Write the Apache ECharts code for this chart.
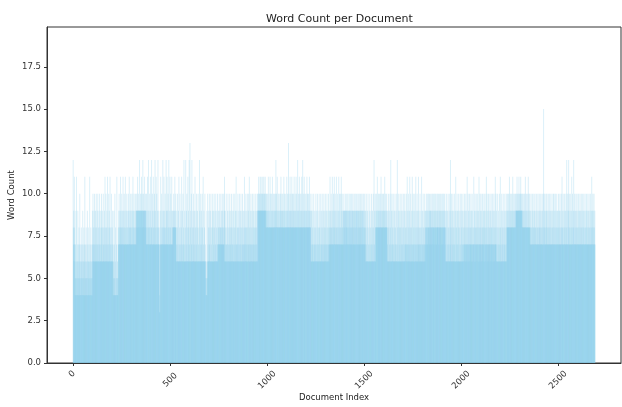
<!DOCTYPE html>
<html>
<head>
<meta charset="utf-8">
<script src="https://cdn.jsdelivr.net/npm/echarts@6/dist/echarts.min.js"></script>
<style>html,body{margin:0;padding:0;background:#fff;}#c{width:622px;height:407px;}</style>
</head>
<body>
<div id="c"></div>
<script>
// Word counts per document, docs 0-499
const docs0 = [
12,8,7,9,6,7,11,8,7,4,6,5,7,4,9,5,4,11,6,4,
5,7,4,6,9,4,5,7,4,6,8,5,4,7,10,4,6,5,4,7,
4,6,8,5,4,7,6,4,5,9,4,7,6,4,5,8,4,6,7,4,
11,5,4,6,7,4,5,8,4,6,5,4,7,9,4,6,5,4,8,6,
4,7,5,4,6,11,4,5,7,4,6,8,4,5,6,4,7,5,4,9,
6,7,10,6,8,6,7,9,6,6,10,7,6,8,6,9,6,7,6,10,
6,8,6,7,9,6,6,10,7,6,8,6,6,9,7,6,10,6,8,6,
7,6,9,6,6,8,10,6,7,6,9,6,8,6,6,10,7,6,8,6,
6,9,6,7,11,6,8,6,6,10,7,6,8,6,9,6,6,11,7,6,
8,6,6,10,7,6,9,6,8,6,11,6,7,6,8,6,6,10,6,7,
6,8,6,9,6,7,4,6,5,4,9,4,7,5,4,10,4,6,4,8,
4,5,4,7,4,11,5,4,6,4,5,4,7,8,7,9,7,10,8,7,
7,9,7,8,11,7,7,9,8,7,10,7,7,8,9,7,7,11,8,7,
9,7,7,10,7,8,7,9,7,11,7,8,7,7,9,7,10,7,8,7,
7,9,7,8,10,7,7,9,7,11,8,7,7,9,7,8,10,7,7,9,
8,7,7,10,7,9,7,8,11,7,7,9,8,7,10,7,7,8,9,7,
7,10,7,8,7,9,9,10,9,8,9,9,11,9,8,9,10,9,9,8,
9,9,12,9,9,8,9,10,9,9,8,9,11,9,9,10,8,9,9,12,
9,8,9,10,9,9,8,9,11,9,9,8,9,10,9,8,9,7,10,7,
7,8,7,11,7,9,7,8,12,7,7,9,8,7,10,7,8,7,11,7,
9,7,7,8,12,7,8,7,10,7,9,7,7,11,8,7,7,9,7,10,
7,8,12,7,7,9,7,8,11,7,7,10,7,8,7,9,7,12,7,8,
7,9,7,8,7,3,4,3,7,9,7,11,7,8,7,7,10,7,9,7,
8,7,12,7,7,9,8,7,11,7,7,8,9,7,10,7,8,7,7,12,
7,9,7,8,11,7,7,9,7,10,7,8,7,12,7,9,7,7,8,11
];
// docs 500-999
const docs1 = [
7,8,7,10,7,9,7,7,11,7,8,7,9,7,8,8,9,8,10,8,
8,9,8,8,11,8,9,8,8,10,8,6,7,6,9,6,8,6,10,6,
7,6,6,9,6,11,6,7,6,8,6,10,6,6,7,9,6,8,6,11,
6,7,6,9,6,6,10,7,6,8,6,12,6,7,6,9,6,6,8,6,
12,6,7,6,9,6,10,6,8,6,6,11,7,6,9,6,8,6,12,6,
7,6,13,6,8,6,9,6,6,10,7,6,12,6,8,6,6,9,7,6,
10,6,8,6,6,9,6,7,11,6,6,8,6,9,6,6,10,7,6,8,
6,9,6,6,10,6,7,6,8,6,6,12,6,9,6,7,6,10,6,8,
6,6,9,7,6,10,6,8,6,6,11,6,7,6,9,6,6,8,6,10,
6,7,6,5,4,6,4,5,4,9,4,6,5,10,6,7,6,8,6,9,
6,6,10,7,6,8,6,9,6,6,10,6,7,6,8,6,6,9,6,10,
6,8,6,6,9,7,6,10,6,8,6,6,9,6,7,10,6,6,8,6,
9,6,7,6,10,6,7,8,7,9,7,8,7,10,7,7,9,8,7,8,
7,10,7,8,7,9,7,7,8,10,7,9,7,8,7,7,10,7,8,9,
11,6,7,6,9,6,8,7,6,10,6,7,6,8,7,6,9,6,10,6,
7,6,8,6,9,7,6,10,6,8,6,7,9,6,6,8,10,6,7,6,
9,6,7,8,6,10,6,6,9,7,6,8,6,10,6,7,6,9,6,8,
11,6,7,6,9,7,6,8,6,10,6,7,8,6,9,6,6,10,7,6,
8,6,9,6,7,10,6,8,6,6,9,7,6,10,6,8,7,6,9,6,
7,6,8,11,6,7,9,6,8,6,10,7,6,8,6,9,7,6,10,6,
8,6,7,9,6,10,7,6,11,6,8,7,6,9,6,7,10,6,8,6,
7,9,6,6,10,7,6,8,6,9,7,6,10,6,8,6,7,9,6,8,
6,10,7,6,9,6,8,7,6,10,6,9,9,10,9,9,11,9,10,9,
9,10,9,9,11,9,9,10,9,11,9,9,10,9,9,10,9,11,9,9,
10,9,9,11,9,10,9,9,10,9,11,9,9,10,8,9,8,10,8,9
];
// docs 1000-1499
const docs2 = [
8,10,8,9,8,8,11,8,9,8,10,8,8,9,8,11,8,8,10,8,
9,8,8,10,8,9,8,11,8,8,9,8,10,8,8,9,8,10,8,9,
8,8,10,8,9,12,8,8,10,8,9,8,11,8,8,9,8,10,8,8,
9,8,10,8,8,9,8,8,10,8,9,11,8,8,9,8,10,8,8,9,
8,10,8,9,8,8,11,8,9,8,10,8,8,9,8,8,10,8,9,8,
8,11,8,9,8,10,8,8,9,8,13,8,8,10,8,9,8,8,11,8,
9,8,10,8,8,9,8,11,8,8,10,8,9,8,8,10,8,9,8,11,
8,8,9,8,10,8,8,9,8,11,8,8,10,8,9,8,8,12,8,9,
8,10,8,8,9,8,11,8,8,10,8,9,8,8,10,8,9,8,11,8,
8,9,8,12,8,8,10,8,9,8,8,11,8,9,8,10,8,8,9,8,
10,8,8,9,8,11,8,8,10,8,9,8,8,10,8,9,8,8,11,8,
9,8,10,8,8,9,6,7,6,9,6,10,6,8,7,6,9,6,7,6,
10,6,8,6,7,9,6,6,8,7,6,10,6,9,6,7,6,8,6,10,
6,7,9,6,6,8,7,6,10,6,8,6,9,7,6,6,10,6,8,7,
6,9,6,7,10,6,6,8,7,9,6,6,10,7,6,8,6,9,7,6,
10,6,8,7,6,9,6,7,10,6,8,6,7,9,6,6,10,7,8,6,
7,9,7,8,11,7,7,9,8,7,10,7,8,7,9,7,11,7,8,7,
9,7,10,7,8,7,11,7,9,8,7,10,7,7,9,8,7,11,7,8,
7,9,7,10,7,8,7,7,9,11,7,8,7,10,7,9,7,8,7,10,
7,8,11,7,9,7,7,10,8,7,9,7,8,9,7,10,9,7,9,8,
7,9,9,10,7,8,9,7,9,8,10,7,9,9,7,8,10,7,9,7,
9,8,7,10,9,7,9,8,7,10,7,9,8,9,7,10,7,8,9,7,
9,10,7,8,9,7,9,7,10,8,7,9,9,7,10,7,8,9,7,9,
10,7,9,8,7,9,7,10,9,7,8,9,7,10,7,9,8,7,9,10,
7,8,9,7,10,9,7,8,7,9,10,7,9,8,7,9,7,10,8,7
];
// docs 1500-1999
const docs3 = [
9,7,8,10,7,9,7,8,6,9,6,10,6,7,6,8,6,9,6,6,
10,6,7,6,8,6,9,6,6,10,7,6,8,6,6,9,6,7,10,6,
6,8,6,9,6,7,6,10,6,8,6,12,6,7,9,6,6,10,6,8,
8,9,8,10,8,8,9,8,11,8,8,9,8,10,8,9,8,8,10,8,
9,8,8,10,8,9,8,11,8,8,9,8,10,8,8,9,8,10,8,9,
8,10,8,8,9,8,11,8,9,8,8,10,8,9,8,8,10,8,9,8,
6,7,6,9,6,10,6,8,6,6,9,7,6,10,6,8,6,12,6,7,
9,6,6,10,6,8,7,6,9,6,10,6,7,6,8,6,9,6,6,10,
7,6,8,6,9,6,7,6,10,6,6,12,6,8,7,6,9,6,10,6,
6,8,6,9,7,6,10,6,8,6,6,9,7,6,10,6,8,6,7,9,
6,6,10,6,8,7,6,9,6,10,6,7,6,8,7,9,6,10,7,6,
8,6,11,7,6,9,7,6,10,6,8,7,6,9,6,11,7,6,8,6,
10,7,6,9,6,8,7,6,11,6,7,9,6,10,7,6,8,6,9,7,
6,10,6,8,7,6,11,6,9,7,6,8,6,10,7,6,9,6,8,7,
11,6,7,9,6,8,7,6,10,6,7,8,6,9,7,6,11,6,8,7,
6,9,7,6,10,6,8,7,6,9,7,6,10,7,8,6,9,7,8,9,
8,10,7,8,9,8,7,10,8,9,7,8,10,8,8,9,7,10,8,9,
8,7,9,10,8,8,9,7,8,10,8,9,8,7,10,8,9,8,8,10,
7,8,9,8,10,8,7,9,8,10,8,8,9,7,8,10,8,9,8,8,
10,8,9,7,8,10,8,8,9,8,10,7,8,9,8,10,8,8,9,7,
8,10,8,9,8,7,10,8,9,8,8,10,7,9,8,8,10,8,9,8,
6,7,6,9,6,10,6,8,6,6,9,7,6,10,6,8,6,7,9,6,
6,10,6,8,7,12,6,9,6,6,10,6,8,7,6,9,6,10,6,7,
8,6,9,6,6,10,7,6,8,6,9,6,11,6,7,6,8,6,9,10,
6,7,6,9,6,8,6,10,6,7,9,6,6,8,6,10,6,7,6,9
];
// docs 2000-2499
const docs4 = [
6,10,6,8,7,6,9,6,7,10,6,8,6,7,9,7,6,10,7,8,
7,9,6,7,10,7,8,6,7,9,7,11,7,6,8,7,10,7,9,6,
7,8,7,10,6,7,9,7,8,7,10,7,6,9,7,8,7,10,7,6,
9,7,8,7,7,11,7,8,6,9,7,10,7,7,8,6,9,7,10,7,
8,7,6,9,7,10,7,8,7,6,9,7,11,7,8,7,6,10,7,9,
7,8,7,10,6,7,9,7,8,7,10,7,6,8,7,9,7,10,7,8,
6,9,7,10,7,8,7,6,9,7,11,7,8,7,10,6,7,9,7,8,
7,10,7,6,9,7,8,7,10,7,7,9,6,8,7,10,7,8,7,9,
6,7,10,7,8,7,9,7,6,10,7,8,7,9,6,7,11,7,8,7,
10,7,6,9,6,8,6,6,10,7,6,8,6,9,6,7,6,10,6,8,
6,7,11,6,8,6,9,6,6,10,7,6,8,6,9,6,7,10,6,6,
8,6,9,7,6,10,6,8,6,6,9,7,6,10,6,8,9,8,8,10,
8,9,8,8,10,8,8,9,8,11,8,8,10,8,9,8,8,10,8,9,
8,8,10,8,9,8,11,8,8,9,8,10,8,8,9,8,10,8,9,8,
8,10,9,9,10,9,9,9,11,9,9,10,9,9,9,10,9,9,11,9,
9,10,9,9,9,10,9,11,9,9,10,9,9,9,10,8,9,8,10,8,
8,9,8,10,8,8,9,8,10,8,8,11,8,9,8,8,10,8,9,8,
8,10,8,8,9,8,11,8,8,10,8,9,8,8,10,8,7,9,7,8,
7,10,7,8,7,9,7,7,10,8,7,9,7,8,7,10,7,7,9,8,
7,10,7,8,7,9,7,8,7,10,7,7,9,7,8,7,10,7,8,7,
9,7,7,10,8,7,9,7,8,7,10,7,9,7,8,7,7,10,7,9,
7,8,7,10,7,15,7,8,9,7,10,7,8,7,9,7,7,10,8,7,
9,7,10,7,8,7,9,7,7,10,7,8,7,9,7,10,7,8,7,7,
9,7,10,7,8,7,7,9,7,10,7,8,7,9,7,7,10,7,8,7,
10,7,9,7,7,8,7,10,7,9,7,7,8,10,7,7,9,7,8,7
];
// docs 2500-2690
const docs5 = [
9,7,10,7,8,7,7,9,7,10,7,8,7,7,9,7,10,7,8,7,
11,7,8,7,9,7,10,7,7,8,7,9,7,10,7,8,7,7,9,7,
10,7,8,7,12,7,9,7,7,10,7,8,7,9,12,7,7,10,7,8,
7,9,7,10,7,7,8,7,9,7,11,7,8,7,10,7,7,9,7,8,
12,7,9,7,7,10,7,8,7,9,7,7,10,7,8,7,9,7,10,7,
8,7,7,9,7,10,7,8,7,7,9,7,10,7,8,7,9,7,7,10,
7,8,7,9,7,10,7,7,8,7,9,7,10,7,8,7,7,9,7,10,
7,8,7,7,9,7,10,7,8,7,9,7,7,10,7,8,7,9,7,7,
10,7,8,7,9,7,7,10,7,8,7,9,7,11,7,8,7,9,7,10,
7,8,7,9,7,10,7,8,7,9,7
];
const xTickValues = [0, 500, 1000, 1500, 2000, 2500];
const yTickValues = [0, 2.5, 5, 7.5, 10, 12.5, 15, 17.5];
const titleText = 'Word Count per Document';
const xName = 'Document Index';
const yName = 'Word Count';

const wordCounts = [].concat(docs0, docs1, docs2, docs3, docs4, docs5);
const seriesData = wordCounts.map((v, i) => [i, v]);

const font = 'DejaVu Sans';
const chart = echarts.init(document.getElementById('c'), null, {renderer: 'canvas'});
chart.setOption({
  animation: false,
  backgroundColor: '#fff',
  title: {
    text: titleText, left: 261, top: 9,
    textStyle: {fontFamily: font, fontSize: 11, fontWeight: 'normal', color: '#222'}
  },
  grid: {left: 47, right: 1, top: 27, bottom: 44, show: true, borderColor: '#333', borderWidth: 1,
    outerBoundsMode: 'none', containLabel: false},
  xAxis: {
    type: 'value', min: -135, max: 2824,
    name: xName, nameLocation: 'middle', nameGap: 35, nameMoveOverlap: false,
    nameTextStyle: {fontFamily: font, fontSize: 8.5, color: '#222', verticalAlign: 'middle'},
    axisLine: {onZero: false, lineStyle: {color: '#333'}},
    axisTick: {customValues: xTickValues, length: 3, lineStyle: {color: '#333'}},
    axisLabel: {customValues: xTickValues, rotate: 45, align: 'center', verticalAlign: 'middle', margin: 17,
      formatter: v => (v === 0 ? '{z|0}' : String(v)),
      rich: {z: {padding: [0, 0, 10, 7], fontFamily: font, fontSize: 8.5, color: '#333'}},
      fontFamily: font, fontSize: 8.5, color: '#333'},
    splitLine: {show: false}
  },
  yAxis: {
    type: 'value', min: 0, max: 19.85,
    name: yName, nameLocation: 'middle', nameGap: 35, nameRotate: 90, nameMoveOverlap: false,
    nameTextStyle: {fontFamily: font, fontSize: 8.5, color: '#222', verticalAlign: 'middle'},
    axisLine: {show: true, onZero: false, lineStyle: {color: '#333'}},
    axisTick: {show: true, customValues: yTickValues, length: 3, lineStyle: {color: '#333'}},
    axisLabel: {customValues: yTickValues, margin: 6, formatter: v => Number(v).toFixed(1),
      fontFamily: font, fontSize: 8.5, color: '#333'},
    splitLine: {show: false}
  },
  series: [{
    type: 'bar', data: seriesData, barWidth: 1, barMinWidth: 1,
    itemStyle: {color: '#87CEEB', opacity: 0.3}, progressive: 0
  }]
});
</script>
</body>
</html>
